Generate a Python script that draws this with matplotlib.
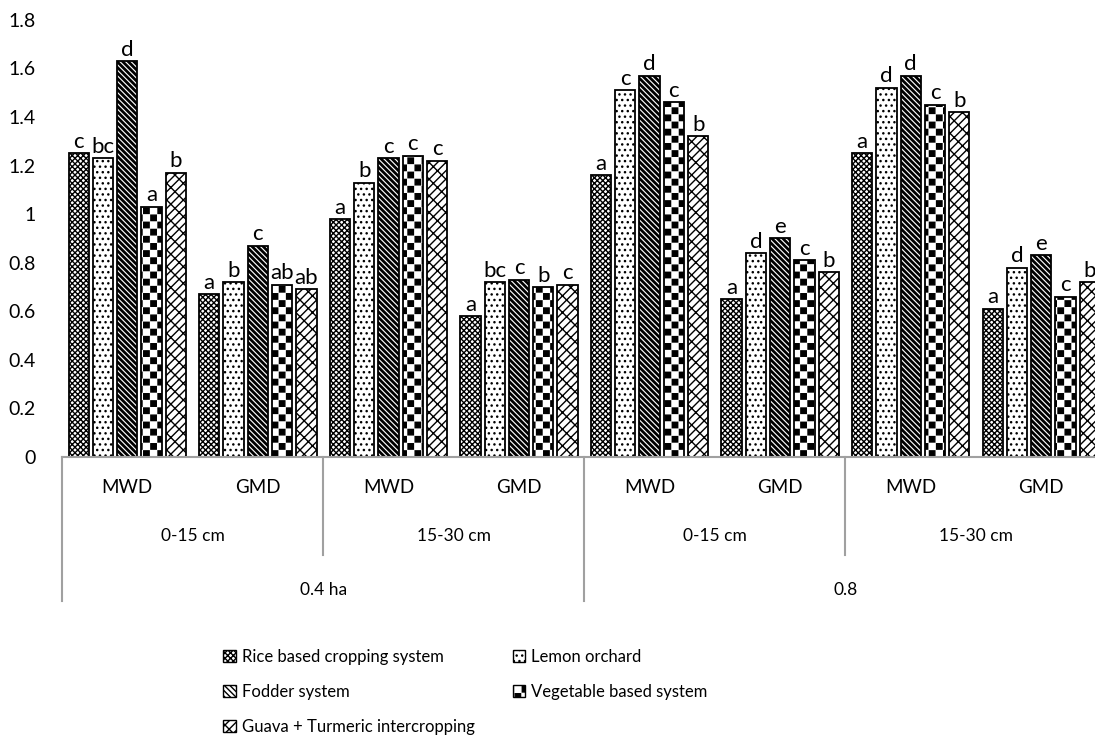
import matplotlib
matplotlib.use('Agg')
import matplotlib.pyplot as plt
import matplotlib.hatch as mhatch
from matplotlib.path import Path
from matplotlib.patches import Patch
import numpy as np

systems = ['Rice based cropping system', 'Lemon orchard', 'Fodder system',
           'Vegetable based system', 'Guava + Turmeric intercropping']
groups = ['MWD', 'GMD', 'MWD', 'GMD', 'MWD', 'GMD', 'MWD', 'GMD']
depths = ['0-15 cm', '15-30 cm', '0-15 cm', '15-30 cm']
areas = ['0.4 ha', '0.8']

rice = [1.25, 0.67, 0.98, 0.58, 1.16, 0.65, 1.25, 0.61]
lemon = [1.23, 0.72, 1.13, 0.72, 1.51, 0.84, 1.52, 0.78]
fodder = [1.63, 0.87, 1.23, 0.73, 1.57, 0.90, 1.57, 0.83]
veg = [1.03, 0.71, 1.24, 0.70, 1.46, 0.81, 1.45, 0.66]
guava = [1.17, 0.69, 1.22, 0.71, 1.32, 0.76, 1.42, 0.72]

rice_lbl = ['c', 'a', 'a', 'a', 'a', 'a', 'a', 'a']
lemon_lbl = ['bc', 'b', 'b', 'bc', 'c', 'd', 'd', 'd']
fodder_lbl = ['d', 'c', 'c', 'c', 'd', 'e', 'd', 'e']
veg_lbl = ['a', 'ab', 'c', 'b', 'c', 'c', 'c', 'c']
guava_lbl = ['b', 'ab', 'c', 'c', 'b', 'b', 'b', 'b']


# checkerboard hatch, hooked on the '*' character
class CheckerHatch(mhatch.HatchPatternBase):
    def __init__(self, hatch, density):
        self.n = 14 if '*' in hatch else 0
        self.num_vertices = (self.n * self.n // 2) * 5

    def set_vertices_and_codes(self, vertices, codes):
        s = 1.0 / self.n
        d = 0.12 * s
        k = 0
        for i in range(self.n):
            for j in range(self.n):
                if (i + j) % 2 == 0:
                    x, y = i * s, j * s
                    vertices[k:k + 5] = [(x + d, y + d), (x + s - d, y + d),
                                         (x + s - d, y + s - d), (x + d, y + s - d),
                                         (x + d, y + d)]
                    codes[k:k + 5] = [Path.MOVETO, Path.LINETO, Path.LINETO,
                                      Path.LINETO, Path.CLOSEPOLY]
                    k += 5


mhatch._hatch_types = [t for t in mhatch._hatch_types if t is not mhatch.Stars] + [CheckerHatch]

plt.rcParams['font.family'] = ['Lato', 'DejaVu Sans']
plt.rcParams['hatch.linewidth'] = 1.0

values = [rice, lemon, fodder, veg, guava]
letters = [rice_lbl, lemon_lbl, fodder_lbl, veg_lbl, guava_lbl]
hatches = ['x' * 6, '...', '\\' * 6, '*', '//xx']
hatch_lw = [1.0, 1.0, 2.0, 1.0, 1.0]

fig = plt.figure(figsize=(10.95, 7.37), dpi=100)
ax = fig.add_axes([0.0566, 0.38, 0.954, 0.593])

x = np.arange(len(groups))
step = 0.186
width = 0.155
handles = []
for i in range(5):
    bars = ax.bar(x + (i - 2) * step, values[i], width, color='white',
                  edgecolor='black', linewidth=1.3, hatch=hatches[i])
    for b, lab in zip(bars, letters[i]):
        if hasattr(b, 'set_hatch_linewidth'):
            b.set_hatch_linewidth(hatch_lw[i])
        ax.annotate(lab, (b.get_x() + b.get_width() / 2, b.get_height()),
                    xytext=(0, 1), textcoords='offset points',
                    ha='center', va='bottom', fontsize=16)
    handles.append(Patch(facecolor='white', edgecolor='black', linewidth=1.0,
                         hatch=hatches[i]))

ax.set_xlim(-0.5, 7.5)
ax.set_ylim(0, 1.8)
ax.set_yticks(np.arange(0, 1.81, 0.2))
ax.set_yticklabels(['0', '0.2', '0.4', '0.6', '0.8', '1', '1.2', '1.4', '1.6', '1.8'])
ax.tick_params(axis='y', length=0, labelsize=14, pad=19)
ax.set_xticks([])
for s in ['top', 'right', 'left']:
    ax.spines[s].set_visible(False)
ax.spines['bottom'].set_color('#a0a0a0')
ax.spines['bottom'].set_linewidth(1.5)

# multi-level category axis
tr = ax.get_xaxis_transform()
gray = '#a0a0a0'
for k, g in enumerate(groups):
    ax.text(k, -0.07, g, transform=tr, ha='center', va='center', fontsize=13.5)
for k, dlab in enumerate(depths):
    ax.text(2 * k + 0.5, -0.182, dlab, transform=tr, ha='center', va='center', fontsize=12.5)
for k, alab in enumerate(areas):
    ax.text(4 * k + 1.5, -0.305, alab, transform=tr, ha='center', va='center', fontsize=12.5)
for xb in [1.5, 5.5]:
    ax.plot([xb, xb], [0, -0.225], color=gray, lw=1.5, transform=tr, clip_on=False)
for xb in [-0.5, 3.5, 7.5]:
    ax.plot([xb, xb], [0, -0.33], color=gray, lw=1.5, transform=tr, clip_on=False)

order = [0, 2, 4, 1, 3]
fig.legend([handles[i] for i in order], [systems[i] for i in order], ncol=2,
           loc='upper left', bbox_to_anchor=(0.198, 0.129), frameon=False,
           fontsize=12, handlelength=0.75, handleheight=0.75, handletextpad=0.35,
           labelspacing=1.15, columnspacing=2.27, borderaxespad=0)

fig.savefig('out.png', dpi=100)
